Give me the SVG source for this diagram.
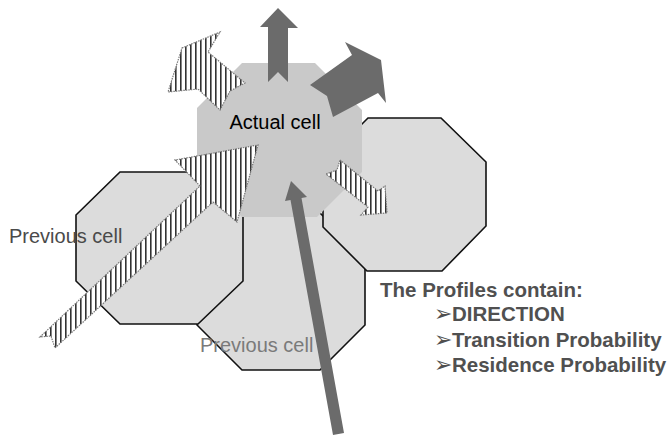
<svg xmlns="http://www.w3.org/2000/svg" width="670" height="435" viewBox="0 0 670 435">
  <defs>
    <pattern id="hatch" width="5" height="10" patternUnits="userSpaceOnUse">
      <rect width="5" height="10" fill="#fff"/>
      <rect x="0" y="0" width="1.6" height="10" fill="#333"/>
    </pattern>
  </defs>
  <style>
    .cell { fill: #dcdcdc; stroke: #111; stroke-width: 1.6; stroke-linejoin: miter; }
    .actual { fill: #c9c9c9; stroke: none; }
    .solid { fill: #6b6b6b; stroke: none; }
    .hatched { fill: url(#hatch); stroke: #777; stroke-width: 1.2; stroke-dasharray: 1.5 1; }
    .lbl { font-family: "Liberation Sans", Arial, sans-serif; font-size: 20px; }
    .prof { font-family: "Liberation Sans", Arial, sans-serif; font-size: 20.5px; font-weight: bold; fill: #505050; }
    .bul { font-family: "DejaVu Sans", sans-serif; font-size: 22px; fill: #505050; }
  </style>
  <rect width="670" height="435" fill="#fff"/>

  <g id="prev-cell-bottom">
    <polygon class="cell" points="242,213 320,213 365,258 365,325 320,370 242,370 197,325 197,258"/>
  </g>
  <g id="prev-cell-left">
    <polygon class="cell" points="120,172 198,172 243,215 243,281 198,324 120,324 76,281 76,215"/>
  </g>
  <g id="neighbor-cell-right">
    <polygon class="cell" points="368,118 441,118 486,162 486,226 442,271 367,271 323,227 323,163"/>
  </g>
  <g id="actual-cell">
    <polygon class="actual" points="242,63 315,63 362,110 362,172 317,217 242,217 197,172 197,108"/>
    <text class="lbl" x="275" y="129" text-anchor="middle" fill="#000">Actual cell</text>
  </g>

  <g id="connectors">
    <polygon class="solid" points="278,8 298,28 288,28 288,82 278,72 268,82 268,27 260,27"/>
    <polygon class="solid" points="310,85 352,55 345,42 381,60 386,103 378,93 333,117 327,96"/>
    <polygon class="hatched" points="182,48 220,32 208,52 245,83 230,91 220,110 198,89 168,92"/>
    <polygon class="hatched" points="340,160 378,191 385,186 387,213 361,215 368,207 326,174 337,170"/>
    <polygon class="hatched" points="40,337 200,186 175,160 258,145 237,222 213,202 55,348 51,336"/>
    <polygon class="solid" points="291,181 307,197 301.5,198 344,433 333,435 290.5,200 285,201"/>
  </g>

  <g id="labels">
    <text class="lbl" x="9" y="243" fill="#4a4a4a">Previous cell</text>
    <text class="lbl" x="200" y="352" fill="#7a7a7a">Previous cell</text>
  </g>

  <g id="profiles">
    <text class="prof" x="380" y="297">The Profiles contain:</text>
    <text class="bul" x="434" y="321">➢</text>
    <text class="prof" x="452" y="321">DIRECTION</text>
    <text class="bul" x="434" y="347">➢</text>
    <text class="prof" x="452" y="347">Transition Probability</text>
    <text class="bul" x="434" y="372">➢</text>
    <text class="prof" x="452" y="372">Residence Probability</text>
  </g>
</svg>
